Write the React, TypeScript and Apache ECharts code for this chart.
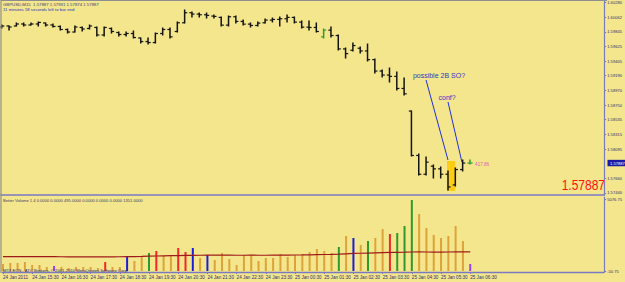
import React, { useEffect, useRef } from "react";
import * as echarts from "echarts";

const BG = "#F4E68C";
const FONT = '"Liberation Sans", Arial, sans-serif';

// OHLC of GBPUSD M15 bars (index 0 = 24 Jan 14:30)
const opens = [
  1.59917, 1.59932, 1.59932, 1.59962, 1.59947, 1.59962, 1.59977, 1.59947, 1.59925, 1.5988,
  1.59842, 1.5991, 1.59895, 1.5991, 1.59798, 1.59895, 1.59835, 1.59805, 1.5982, 1.59753,
  1.597, 1.59685, 1.5982, 1.5988, 1.5985, 1.5998, 1.6013, 1.6011, 1.601, 1.6008,
  1.6006, 1.59945, 1.6007, 1.6, 1.5996, 1.5994, 1.5998, 1.6002, 1.6003, 1.6004,
  1.6006, 1.5999, 1.59915, 1.5991, 1.5977, 1.5987, 1.5979, 1.5959, 1.5957, 1.596,
  1.5956, 1.5943, 1.5926, 1.592, 1.5918, 1.59, 1.58663, 1.58, 1.5772, 1.5784,
  1.578, 1.5772, 1.5756, 1.5779, 1.57887,
];
const highs = [
  1.59947, 1.59932, 1.59977, 1.59977, 1.59977, 1.59992, 1.59977, 1.59962, 1.59932, 1.59887,
  1.59932, 1.59917, 1.59947, 1.59917, 1.59917, 1.59902, 1.59842, 1.59842, 1.59857, 1.59753,
  1.59753, 1.59827, 1.59902, 1.59902, 1.59992, 1.60171, 1.60141, 1.60126, 1.60126, 1.60096,
  1.60066, 1.60081, 1.60081, 1.60021, 1.59977, 1.59992, 1.60036, 1.60051, 1.60066, 1.60096,
  1.60066, 1.60007, 1.60007, 1.59977, 1.59887, 1.59917, 1.59798, 1.59604, 1.59678, 1.59619,
  1.59663, 1.59439, 1.59275, 1.59305, 1.59245, 1.59156, 1.58663, 1.58022, 1.57977, 1.57858,
  1.57828, 1.57768, 1.57813, 1.57932, 1.57931,
];
const lows = [
  1.59902, 1.59872, 1.59932, 1.59932, 1.59947, 1.59932, 1.59932, 1.59917, 1.59872, 1.59827,
  1.59842, 1.59857, 1.59887, 1.59783, 1.59783, 1.59827, 1.59783, 1.59783, 1.59753, 1.59678,
  1.59663, 1.59678, 1.59798, 1.59753, 1.59842, 1.59977, 1.60066, 1.60066, 1.60051, 1.60051,
  1.59932, 1.59932, 1.59977, 1.59947, 1.59917, 1.59932, 1.59977, 1.59992, 1.59932, 1.59992,
  1.59977, 1.59902, 1.59872, 1.59842, 1.59753, 1.59768, 1.59574, 1.59454, 1.59559, 1.59529,
  1.5941, 1.59231, 1.59171, 1.59096, 1.58977, 1.58902, 1.57992, 1.57708, 1.57708, 1.57664,
  1.57664, 1.57484, 1.57544, 1.57768, 1.57874,
];
const closes = [
  1.59932, 1.59917, 1.59962, 1.59947, 1.59962, 1.59985, 1.59947, 1.59925, 1.5988, 1.59842,
  1.59917, 1.59887, 1.59932, 1.59798, 1.5991, 1.5985, 1.59805, 1.5982, 1.5976, 1.597,
  1.59685, 1.5982, 1.5988, 1.5977, 1.5998, 1.6013, 1.6011, 1.601, 1.6009, 1.60075,
  1.59945, 1.6007, 1.6, 1.5996, 1.5994, 1.59975, 1.6002, 1.6003, 1.6004, 1.6006,
  1.5999, 1.59915, 1.5991, 1.5985, 1.5987, 1.5979, 1.5959, 1.5952, 1.5964, 1.5956,
  1.5943, 1.5926, 1.592, 1.5918, 1.59, 1.5892, 1.58, 1.5772, 1.579, 1.578,
  1.5772, 1.5753, 1.5779, 1.57887, 1.57887,
];
const greenBars = [44, 64];

// Better Volume histogram
const volumes = [
  495, 566, 566, 636, 424, 424, 283, 354, 283, 212,
  283, 283, 283, 212, 636, 283, 283, 990, 707, 990,
  1273, 1414, 1061, 1061, 1626, 1343, 1626, 919, 1131, 778,
  1273, 848, 424, 1131, 1131, 707, 919, 919, 1202, 990,
  1131, 1202, 1343, 1555, 1414, 1273, 1697, 2475, 2333, 1838,
  2121, 2333, 2969, 2616, 2687, 3182, 5020, 4030, 3040, 2545,
  2333, 2475, 3182, 2121, 495,
];
const volColorCodes = [
  "t", "t", "t", "t", "t", "t", "t", "p", "t", "t",
  "t", "t", "t", "t", "r", "t", "t", "b", "t", "t",
  "g", "r", "t", "t", "r", "r", "b", "t", "b", "t",
  "t", "t", "t", "t", "t", "t", "t", "t", "t", "t",
  "t", "t", "t", "t", "t", "t", "g", "t", "b", "t",
  "g", "t", "t", "r", "g", "g", "g", "t", "t", "t",
  "t", "t", "t", "t", "p",
];
const volAverage = [
  1010, 1010, 1012, 1015, 1015, 1013, 1012, 1010, 1008, 1005,
  1003, 1000, 1000, 1002, 1005, 1005, 1008, 1015, 1020, 1030,
  1045, 1060, 1070, 1080, 1090, 1100, 1110, 1115, 1120, 1118,
  1120, 1118, 1112, 1115, 1118, 1115, 1115, 1118, 1122, 1125,
  1130, 1135, 1145, 1155, 1165, 1175, 1190, 1215, 1240, 1255,
  1270, 1285, 1300, 1310, 1320, 1330, 1345, 1350, 1345, 1340,
  1340, 1345, 1350, 1352, 1351,
];

const priceTicks = [
  1.6028, 1.60062, 1.59845, 1.59625, 1.59405, 1.5919, 1.5897, 1.5875, 1.58535,
  1.58315, 1.58095, 1.5766, 1.5744,
];
const volTicks = [5076.75, -50.75];
const timeTickIdx = [0, 4, 8, 12, 16, 20, 24, 28, 32, 36, 40, 44, 48, 52, 56, 60, 64];
const timeLabels = [
  "24 Jan 2011", "24 Jan 15:30", "24 Jan 16:30", "24 Jan 17:30", "24 Jan 18:30",
  "24 Jan 19:30", "24 Jan 20:30", "24 Jan 21:30", "24 Jan 22:30", "24 Jan 23:30",
  "25 Jan 00:30", "25 Jan 01:30", "25 Jan 02:30", "25 Jan 03:30", "25 Jan 04:30",
  "25 Jan 05:30", "25 Jan 06:30",
];

const currentPrice = 1.57887;
const titleText = "GBPUSD,M15  1.57887 1.57931 1.57874 1.57887";
const timerText = "11 minutes 58 seconds left to bar end";
const indicatorText =
  "Better Volume 1.4 0.0000 0.0000 495.0000 0.0000 0.0000 0.0000 1351.0000";
const copyrightText = "MT4 ECN - ATC Brokers, © 2001-2010 MetaQuotes Software Corp.";

// user drawings (bar index, price)
const annotationLines = [
  [58.0, 1.59126, 61.0, 1.57932],
  [61.0, 1.58798, 62.9, 1.57902],
];
const annotationTexts = [
  { text: "possible 2B SO?", i: 56.2, p: 1.59186 },
  { text: "conf?", i: 59.7, p: 1.58872 },
];
const highlightBox = [60.86, 1.57917, 62.0, 1.5747];
const pinkLabel = { text: "417.86", i: 64.7, p: 1.57872 };

const VOL_COLORS: Record<string, string> = {
  t: "#DDA33A",
  r: "#F02828",
  b: "#1C1CDC",
  g: "#2E9A2E",
  p: "#9A40E6",
};
const AXIS_COLOR = "#7A7AC2";
const LABEL_COLOR = "#2E2E6E";

export default function App() {
  const ref = useRef<HTMLDivElement>(null);

  useEffect(() => {
    const el = ref.current as HTMLDivElement;
    const chart = echarts.init(el, null, { renderer: "svg", width: 625, height: 282 });

    const ohlcData = opens.map((o, i) => ({
      value: [i, o, highs[i], lows[i], closes[i]],
      itemStyle: { color: greenBars.includes(i) ? "#2E9E2E" : "#141414" },
    }));
    const volData = volumes.map((v, i) => ({
      value: [i, v],
      itemStyle: { color: VOL_COLORS[volColorCodes[i]] },
    }));
    const maData = volAverage.map((v, i) => [i, v]);

    const xMin = -0.1;
    const xMax = 82.35;

    const option: any = {
      animation: false,
      backgroundColor: BG,
      grid: [
        { left: 1, right: 18, top: 1, height: 194 },
        { left: 1, right: 18, top: 197, height: 75 },
      ],
      xAxis: [
        {
          type: "value",
          gridIndex: 0,
          min: xMin,
          max: xMax,
          axisLine: { show: true, onZero: false, lineStyle: { color: AXIS_COLOR, width: 1.6 } },
          axisTick: { show: false },
          axisLabel: { show: false },
          splitLine: { show: false },
        },
        {
          type: "value",
          gridIndex: 1,
          min: xMin,
          max: xMax,
          axisLine: { show: true, onZero: false, lineStyle: { color: AXIS_COLOR, width: 1.4 } },
          axisTick: {
            show: true,
            customValues: timeTickIdx,
            length: 2,
            lineStyle: { color: AXIS_COLOR },
          },
          axisLabel: {
            show: true,
            customValues: timeTickIdx,
            formatter: (v: number) => timeLabels[timeTickIdx.indexOf(Math.round(v))] || "",
            align: "left",
            fontSize: 4.6,
            fontFamily: FONT,
            color: LABEL_COLOR,
            margin: 3,
          },
          splitLine: { show: false },
        },
      ],
      yAxis: [
        {
          type: "value",
          gridIndex: 0,
          position: "right",
          min: 1.5741,
          max: 1.60305,
          axisLine: { show: true, onZero: false, lineStyle: { color: AXIS_COLOR, width: 1.2 } },
          axisTick: {
            show: true,
            customValues: priceTicks,
            length: 2,
            lineStyle: { color: AXIS_COLOR },
          },
          axisLabel: {
            show: true,
            customValues: priceTicks,
            formatter: (v: number) => v.toFixed(5),
            fontSize: 4.1,
            fontFamily: FONT,
            color: LABEL_COLOR,
            margin: 3,
          },
          splitLine: { show: false },
        },
        {
          type: "value",
          gridIndex: 1,
          position: "right",
          min: -70.7,
          max: 5232,
          axisLine: { show: true, onZero: false, lineStyle: { color: AXIS_COLOR, width: 1.2 } },
          axisTick: {
            show: true,
            customValues: volTicks,
            length: 2,
            lineStyle: { color: AXIS_COLOR },
          },
          axisLabel: {
            show: true,
            customValues: volTicks,
            formatter: (v: number) => v.toFixed(2),
            fontSize: 4.1,
            fontFamily: FONT,
            color: LABEL_COLOR,
            margin: 3,
          },
          splitLine: { show: false },
        },
      ],
      series: [
        {
          type: "custom",
          xAxisIndex: 0,
          yAxisIndex: 0,
          encode: { x: 0, y: [1, 2, 3, 4] },
          z: 5,
          data: ohlcData,
          renderItem: (_params: any, api: any) => {
            const i = api.value(0);
            const o = api.coord([i, api.value(1)]);
            const h = api.coord([i, api.value(2)]);
            const l = api.coord([i, api.value(3)]);
            const c = api.coord([i, api.value(4)]);
            const color = api.visual("color");
            const x = o[0];
            const st = { stroke: color, lineWidth: 1.5 };
            return {
              type: "group",
              children: [
                { type: "line", shape: { x1: x, y1: h[1] - 0.5, x2: x, y2: l[1] + 0.5 }, style: st },
                { type: "line", shape: { x1: x - 2.6, y1: o[1], x2: x, y2: o[1] }, style: { stroke: color, lineWidth: 1.2 } },
                { type: "line", shape: { x1: x, y1: c[1], x2: x + 2.6, y2: c[1] }, style: { stroke: color, lineWidth: 1.2 } },
              ],
            };
          },
        },
        {
          type: "custom",
          xAxisIndex: 1,
          yAxisIndex: 1,
          encode: { x: 0, y: 1 },
          data: volData,
          renderItem: (_params: any, api: any) => {
            const i = api.value(0);
            const top = api.coord([i, api.value(1)]);
            const base = api.coord([i, 0]);
            return {
              type: "rect",
              shape: { x: top[0] - 1, y: top[1], width: 2, height: base[1] - top[1] },
              style: { fill: api.visual("color") },
            };
          },
        },
        {
          type: "line",
          xAxisIndex: 1,
          yAxisIndex: 1,
          data: maData,
          showSymbol: false,
          symbol: "none",
          z: 4,
          lineStyle: { color: "#9E1A1A", width: 1.2 },
        },
      ],
    };

    chart.setOption(option);

    const px = (i: number, p: number) => chart.convertToPixel({ gridIndex: 0 }, [i, p]) as number[];

    const graphics: any[] = [];
    // frame
    graphics.push({ type: "line", z: 10, shape: { x1: 1, y1: 0.5, x2: 607, y2: 0.5 }, style: { stroke: "#8E8E8E", lineWidth: 1 } });
    graphics.push({ type: "line", z: 10, shape: { x1: 1, y1: 0, x2: 1, y2: 273 }, style: { stroke: "#8E8E8E", lineWidth: 1.2 } });

    // highlight box behind bars
    const b1 = px(highlightBox[0], highlightBox[1]);
    const b2 = px(highlightBox[2], highlightBox[3]);
    graphics.push({
      type: "rect",
      z: 1,
      shape: { x: b1[0], y: b1[1], width: b2[0] - b1[0], height: b2[1] - b1[1] },
      style: { fill: "#FFCC14" },
    });

    annotationLines.forEach((ln) => {
      const a = px(ln[0], ln[1]);
      const b = px(ln[2], ln[3]);
      graphics.push({
        type: "line",
        z: 20,
        shape: { x1: a[0], y1: a[1], x2: b[0], y2: b[1] },
        style: { stroke: "#2030DC", lineWidth: 1 },
      });
    });
    annotationTexts.forEach((t) => {
      const a = px(t.i, t.p);
      graphics.push({
        type: "text",
        z: 20,
        x: a[0],
        y: a[1],
        style: { text: t.text, fill: "#3434C8", fontSize: 7, fontFamily: FONT, align: "left", verticalAlign: "middle" },
      });
    });
    const pk = px(pinkLabel.i, pinkLabel.p);
    graphics.push({
      type: "text",
      z: 20,
      x: pk[0],
      y: pk[1],
      style: { text: pinkLabel.text, fill: "#E25CB8", fontSize: 4.6, fontFamily: FONT, align: "left", verticalAlign: "middle" },
    });

    // current price tag on the axis
    const cp = px(0, currentPrice);
    graphics.push({
      type: "rect",
      z: 20,
      shape: { x: 607.5, y: cp[1] - 3.2, width: 18, height: 6.4 },
      style: { fill: "#1A1AA4" },
    });
    graphics.push({
      type: "text",
      z: 21,
      x: 610,
      y: cp[1],
      style: { text: currentPrice.toFixed(5), fill: "#FFFFFF", fontSize: 4.1, fontFamily: FONT, align: "left", verticalAlign: "middle" },
    });

    // big red price
    graphics.push({
      type: "text",
      z: 20,
      x: 605,
      y: 192,
      scaleY: 1.2,
      style: { text: currentPrice.toFixed(5), fill: "#FF1010", fontSize: 12, fontFamily: FONT, align: "right", verticalAlign: "bottom" },
    });

    // header texts
    graphics.push({
      type: "text",
      z: 20,
      x: 3,
      y: 4.3,
      style: { text: titleText, fill: "#3A3A7A", fontSize: 4.3, fontFamily: FONT, align: "left", verticalAlign: "middle" },
    });
    graphics.push({
      type: "text",
      z: 20,
      x: 3,
      y: 9.3,
      style: { text: timerText, fill: "#2E2EC4", fontSize: 4.3, fontFamily: FONT, align: "left", verticalAlign: "middle" },
    });
    graphics.push({
      type: "text",
      z: 20,
      x: 3,
      y: 200.3,
      style: { text: indicatorText, fill: "#3A3A6A", fontSize: 4.1, fontFamily: FONT, align: "left", verticalAlign: "middle" },
    });
    graphics.push({
      type: "text",
      z: 20,
      x: 3,
      y: 270,
      style: { text: copyrightText, fill: "#2A2A70", fontSize: 4.2, fontFamily: FONT, align: "left", verticalAlign: "middle" },
    });

    chart.setOption({ graphic: graphics });

    return () => {
      chart.dispose();
    };
  }, []);

  return (
    <div
      ref={ref}
      style={{ position: "fixed", left: 0, top: 0, width: 625, height: 282, background: BG }}
    />
  );
}
